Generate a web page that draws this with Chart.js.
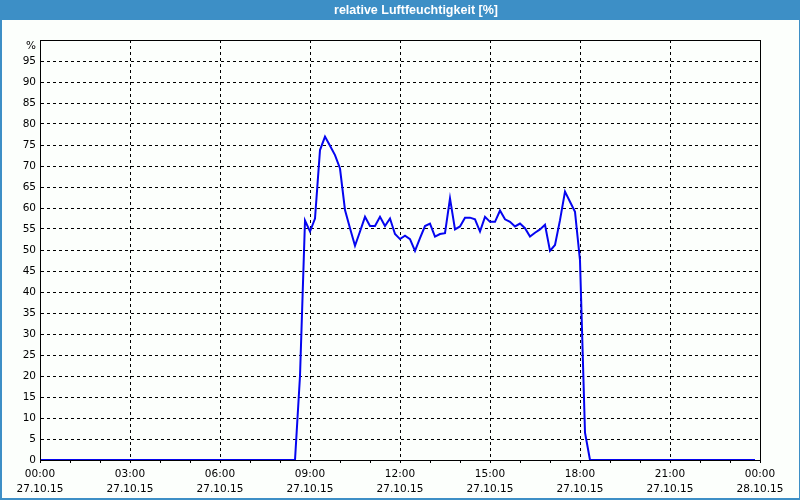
<!DOCTYPE html>
<html lang="de">
<head>
    <meta charset="UTF-8">
    <title>relative Luftfeuchtigkeit</title>
    <script src="https://cdn.jsdelivr.net/npm/chart.js"></script>
    <style>
        body { margin: 0; background: #fcfffc; }
        canvas { display: block; }
    </style>
</head>
<body>
    <canvas id="chart" width="800" height="500"></canvas>
    <script>
        // --- data (10 minute samples, flat zero runs only kept at their ends) ---
        const titleText = 'relative Luftfeuchtigkeit [%]';
        const unitLabel = '%';
        const times = [
            '00:00', '08:30', '08:40', '08:50', '09:00', '09:10', '09:20', '09:30', '09:40', '09:50',
            '10:00', '10:10', '10:20', '10:30', '10:40', '10:50', '11:00', '11:10', '11:20', '11:30',
            '11:40', '11:50', '12:00', '12:10', '12:20', '12:30', '12:40', '12:50', '13:00', '13:10',
            '13:20', '13:30', '13:40', '13:50', '14:00', '14:10', '14:20', '14:30', '14:40', '14:50',
            '15:00', '15:10', '15:20', '15:30', '15:40', '15:50', '16:00', '16:10', '16:20', '16:30',
            '16:40', '16:50', '17:00', '17:10', '17:20', '17:30', '17:40', '17:50', '18:00', '18:10',
            '18:20', '23:50'
        ];
        const humidity = [
            0, 0, 20, 57, 54.4, 57.5, 73.8, 77, 74.8, 72.6,
            69.4, 59.5, 55.2, 51, 54.4, 57.9, 55.7, 55.7, 57.9, 55.7,
            57.5, 53.8, 52.6, 53.4, 52.6, 49.8, 52.8, 55.7, 56.3, 53.2,
            53.8, 54, 62.3, 54.9, 55.6, 57.7, 57.7, 57.3, 54.4, 57.9,
            56.7, 56.7, 59.4, 57.3, 56.7, 55.6, 56.3, 55.2, 53.2, 54.1,
            54.9, 56, 49.8, 51.2, 57.1, 63.9, 61.5, 59.1, 47.5, 6.5,
            0, 0
        ];
        const hourLabels = ['00:00', '03:00', '06:00', '09:00', '12:00', '15:00', '18:00', '21:00', '00:00'];
        const dateLabels = ['27.10.15', '27.10.15', '27.10.15', '27.10.15', '27.10.15', '27.10.15', '27.10.15', '27.10.15', '28.10.15'];

        function toHours(t) {
            const [h, m] = t.split(':').map(Number);
            return h + m / 60;
        }
        const points = times.map((t, i) => ({ x: toHours(t), y: humidity[i] }));

        const font = { family: 'DejaVu Sans', size: 10.5 };

        // --- frame, title bar, unit label and plot border ---
        const framePlugin = {
            id: 'frame',
            beforeDraw(chart) {
                const ctx = chart.ctx;
                const w = chart.width, h = chart.height;
                ctx.save();
                ctx.fillStyle = '#fcfffc';
                ctx.fillRect(0, 0, w, h);
                ctx.fillStyle = '#3d8fc6';
                ctx.fillRect(0, 0, w, 20);
                ctx.fillRect(0, 0, 2, h);
                ctx.fillRect(w - 1, 0, 1, h);
                ctx.fillRect(0, h - 2, w, 2);
                ctx.fillStyle = '#ffffff';
                ctx.font = 'bold 12.5px "Liberation Sans"';
                ctx.textAlign = 'center';
                ctx.textBaseline = 'middle';
                ctx.fillText(titleText, 416, 11);
                ctx.restore();
            },
            afterDraw(chart) {
                const a = chart.chartArea;
                const ctx = chart.ctx;
                ctx.save();
                ctx.strokeStyle = '#000';
                ctx.lineWidth = 1;
                ctx.strokeRect(Math.round(a.left) + 0.5, Math.round(a.top) + 0.5,
                    Math.round(a.right - a.left), Math.round(a.bottom - a.top));
                ctx.fillStyle = '#000';
                ctx.font = '10.5px "DejaVu Sans"';
                ctx.textAlign = 'right';
                ctx.textBaseline = 'middle';
                ctx.fillText(unitLabel, a.left - 4, a.top + 6);
                ctx.restore();
            }
        };

        new Chart(document.getElementById('chart'), {
            type: 'line',
            data: {
                datasets: [{
                    data: points,
                    borderColor: '#0505f0',
                    borderWidth: 2,
                    pointRadius: 0,
                    tension: 0,
                    fill: false
                }]
            },
            options: {
                responsive: false,
                animation: false,
                layout: { padding: { top: 40, right: 40, left: 0, bottom: 0 } },
                plugins: {
                    legend: { display: false },
                    title: { display: false },
                    tooltip: { enabled: false }
                },
                scales: {
                    x: {
                        type: 'linear',
                        min: 0,
                        max: 24,
                        afterFit(scale) { scale.height = 40; },
                        afterBuildTicks(scale) {
                            const ticks = [];
                            for (let h = 0; h <= 24; h++) ticks.push({ value: h });
                            scale.ticks = ticks;
                        },
                        ticks: {
                            autoSkip: false,
                            maxRotation: 0,
                            padding: 4,
                            color: '#000',
                            font: Object.assign({ lineHeight: '15px' }, font),
                            callback: v => v % 3 === 0 ? [hourLabels[v / 3], dateLabels[v / 3]] : ''
                        },
                        grid: {
                            color: c => (c.tick && c.tick.value % 3 === 0) ? '#000' : 'rgba(0,0,0,0)',
                            tickColor: '#000',
                            tickLength: 3,
                            tickBorderDash: [],
                            lineWidth: 1
                        },
                        border: { display: true, color: '#000', dash: [3, 3] }
                    },
                    y: {
                        min: 0,
                        max: 100,
                        afterFit(scale) { scale.width = 40; },
                        ticks: {
                            stepSize: 5,
                            padding: 4,
                            color: '#000',
                            font: font,
                            callback: v => v === 100 ? '' : v
                        },
                        grid: {
                            color: '#000',
                            drawTicks: false,
                            lineWidth: 1
                        },
                        border: { display: true, color: '#000', dash: [3, 3] }
                    }
                }
            },
            plugins: [framePlugin]
        });
    </script>
</body>
</html>
